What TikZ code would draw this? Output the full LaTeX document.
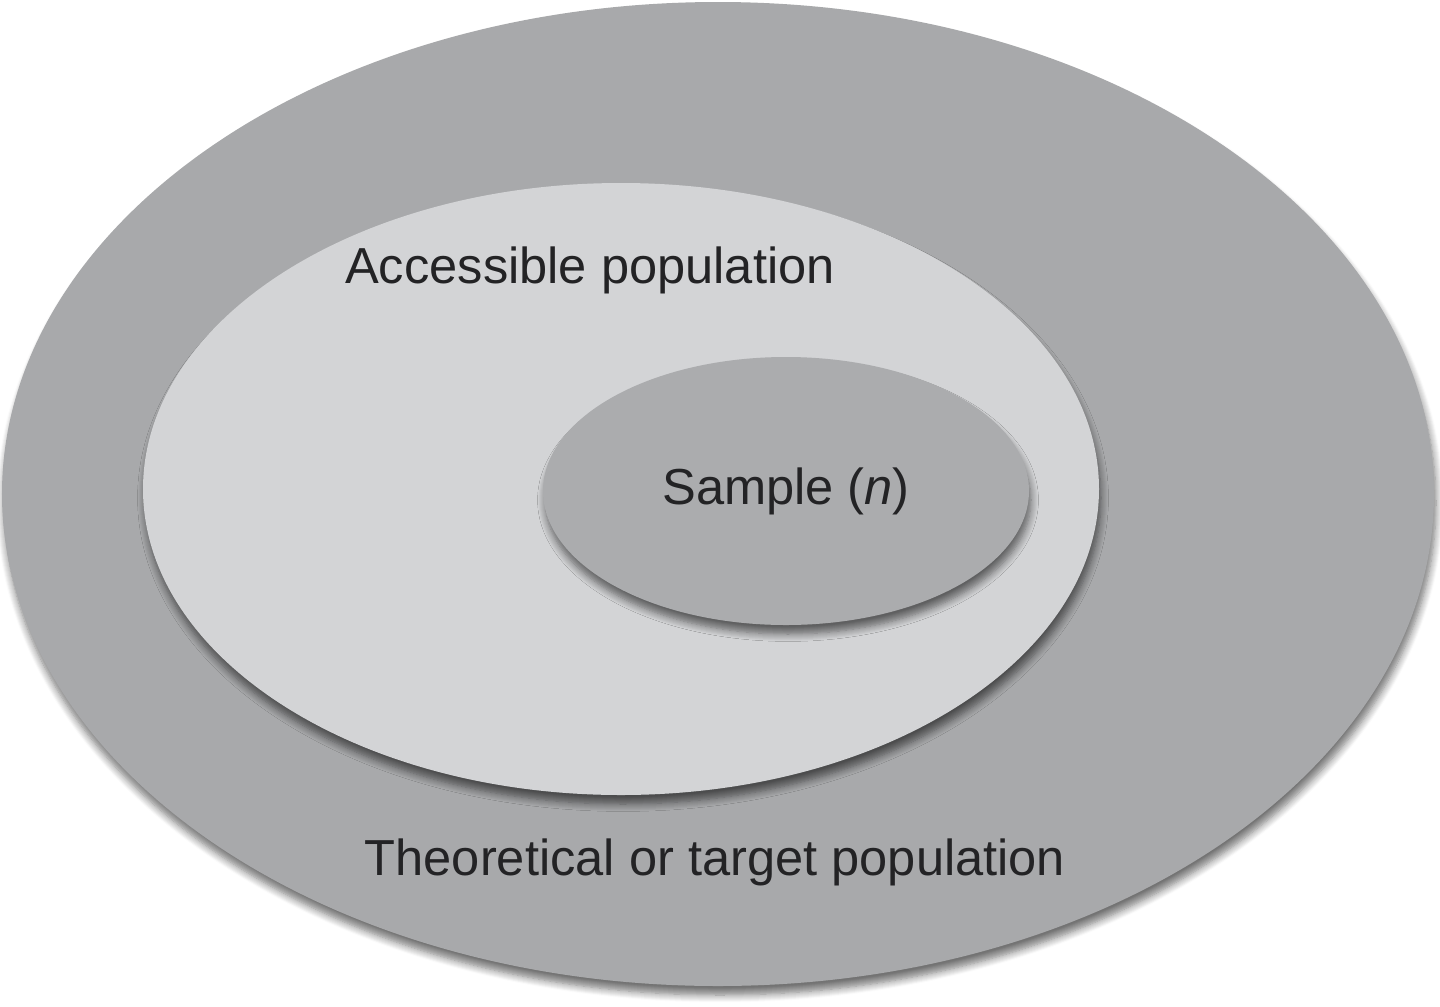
\documentclass[tikz,border=0pt]{standalone}
\usepackage{fontspec}
\setmainfont{Liberation Sans}
\usetikzlibrary{shapes.geometric}
\usetikzlibrary{shadows.blur}

\definecolor{outergray}{HTML}{A8A9AB}
\definecolor{midgray}{HTML}{D3D4D6}
\definecolor{innergray}{HTML}{ABACAE}
\definecolor{labelgray}{HTML}{232325}

\tikzset{
  popset/.style={ellipse, inner sep=0pt,
    blur shadow={shadow xshift=0.02cm, shadow yshift=-0.09cm, shadow blur steps=8, shadow opacity=55}},
  poplabel/.style={text=labelgray, font=\fontsize{14.4}{17}\selectfont}
}

\begin{document}
\begin{tikzpicture}
\useasboundingbox (0,0) rectangle (14.4,10.06);

% nested populations
\node[popset, fill=outergray, minimum width=14.32cm, minimum height=9.84cm] (target) at (7.18,5.12) {};
\node[popset, fill=midgray, minimum width=9.56cm, minimum height=6.12cm] (accessible) at (6.21,5.17) {};
\node[popset, fill=innergray, minimum width=4.86cm, minimum height=2.68cm] (sample) at (7.86,5.15) {};

% labels
\node[poplabel] (accessiblelabel) at (5.90,7.36) {Accessible population};
\node[poplabel] (samplelabel) at (sample.center) {Sample (\textit{n})};
\node[poplabel] (targetlabel) at (7.15,1.44) {Theoretical or target population};
\end{tikzpicture}
\end{document}
